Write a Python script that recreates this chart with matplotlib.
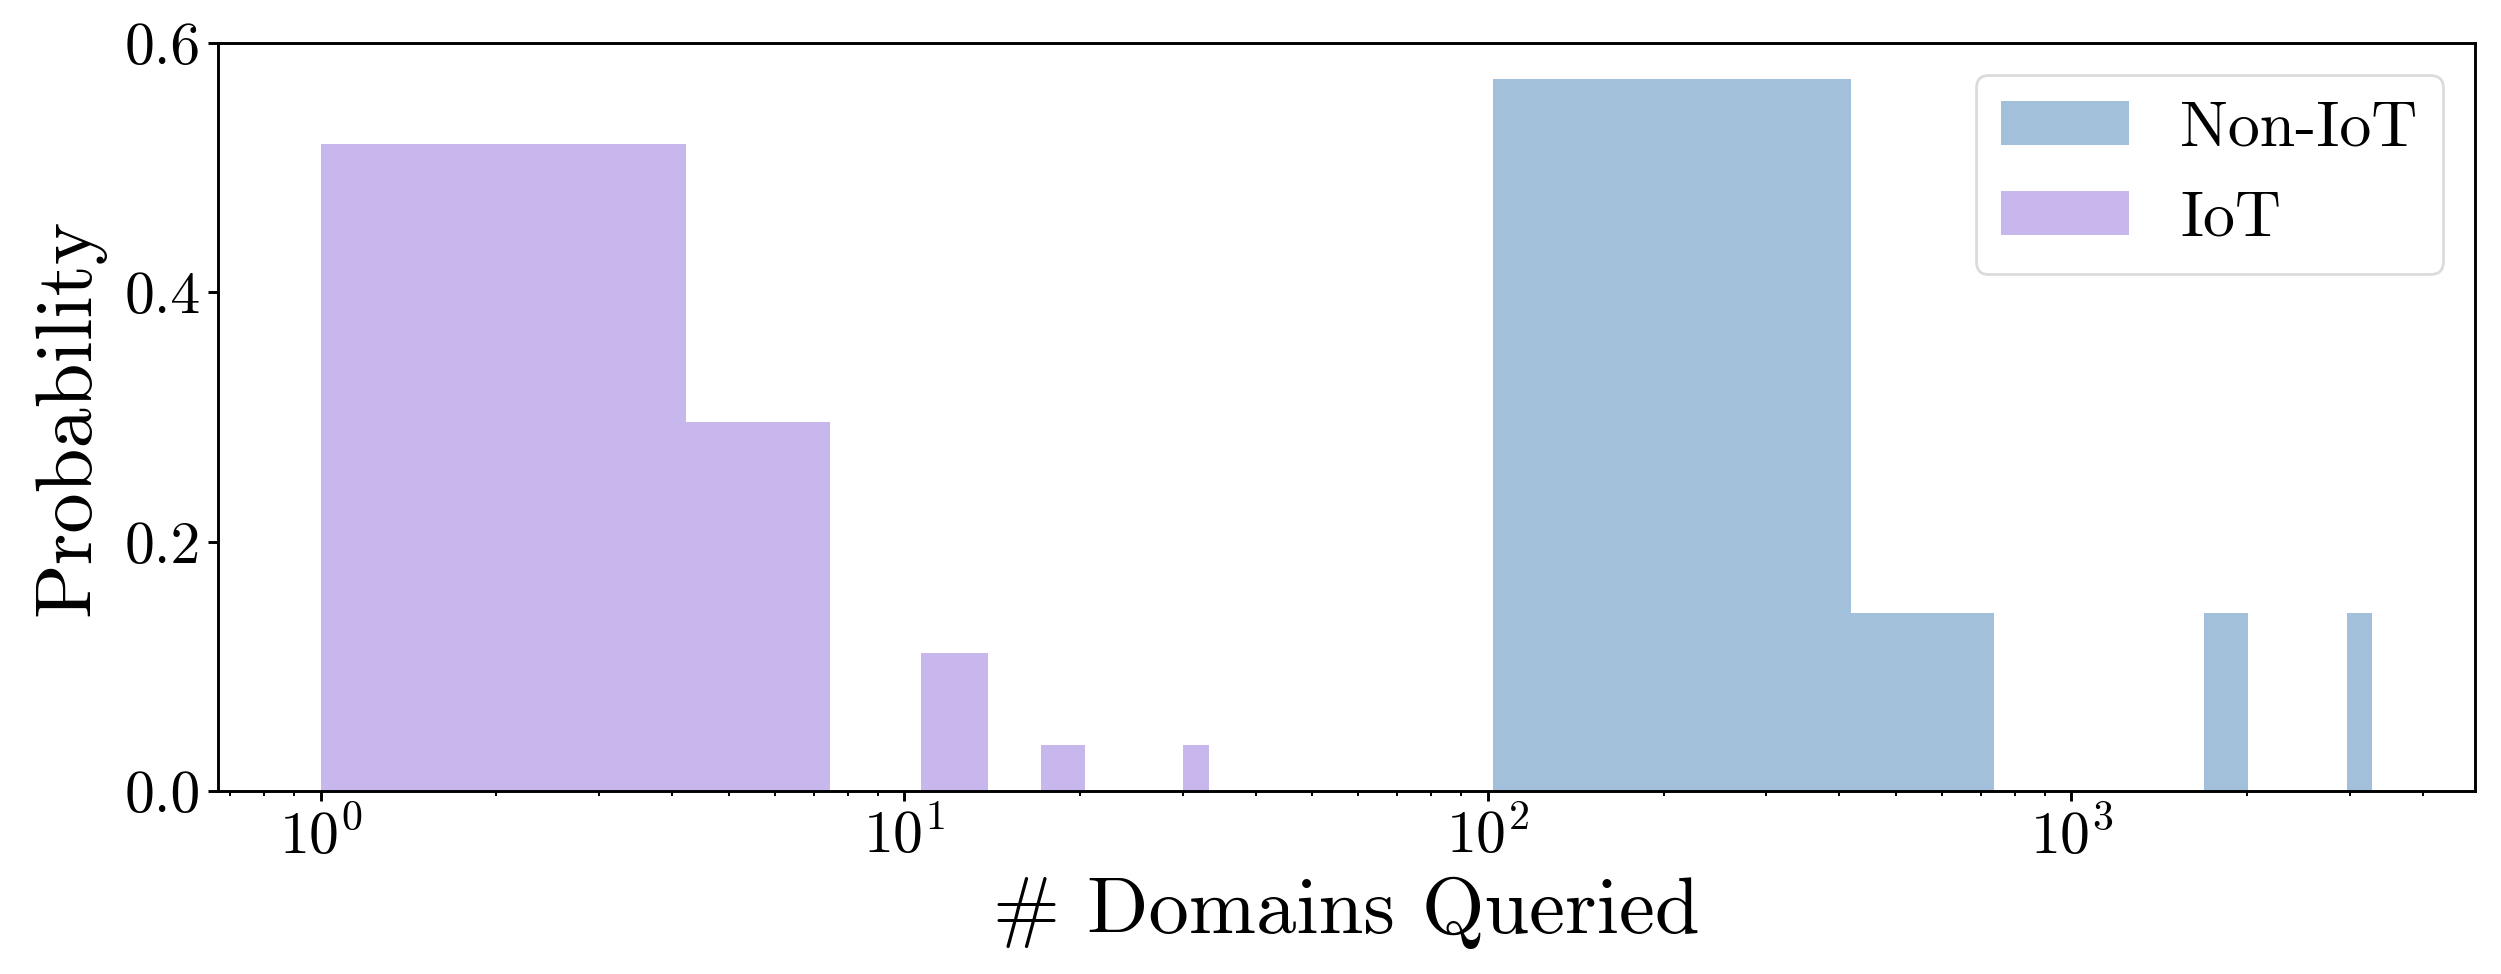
import matplotlib
matplotlib.use("Agg")
import matplotlib.pyplot as plt
from matplotlib.ticker import FormatStrFormatter

# ---- data (histogram bin edges and probabilities) ----
series_labels = ["Non-IoT", "IoT"]

noniot_edges = [102, 419.7, 737.4, 1055, 1373, 1690, 2008, 2326, 2644, 2961, 3279]
noniot_prob = [0.571, 0.143, 0.0, 0.0, 0.0, 0.143, 0.0, 0.0, 0.0, 0.143]

iot_edges = [1.0, 4.23, 7.46, 10.69, 13.92, 17.15, 20.38, 23.61, 26.84, 30.07, 33.3]
iot_prob = [0.519, 0.296, 0.0, 0.111, 0.0, 0.037, 0.0, 0.0, 0.0, 0.037]

y_ticks = [0.0, 0.2, 0.4, 0.6]
x_label = "# Domains Queried"
y_label = "Probability"

# ---- style ----
plt.rcParams["font.family"] = ["cmr10", "DejaVu Serif"]
plt.rcParams["mathtext.fontset"] = "cm"
plt.rcParams["axes.unicode_minus"] = False
plt.rcParams["axes.formatter.use_mathtext"] = True

fig = plt.figure(figsize=(25.01, 9.74), dpi=100)
ax = fig.add_axes([0.0872, 0.1879, 0.9896 - 0.0872, 0.9559 - 0.1879])

ax.hist(noniot_edges[:-1], bins=noniot_edges, weights=noniot_prob,
        color="steelblue", alpha=0.5, label=series_labels[0])
ax.hist(iot_edges[:-1], bins=iot_edges, weights=iot_prob,
        color="mediumpurple", alpha=0.5, label=series_labels[1])

ax.set_xscale("log")
ax.set_ylim(0, 0.6)
ax.set_yticks(y_ticks)
ax.yaxis.set_major_formatter(FormatStrFormatter("%.1f"))

ax.set_xlabel(x_label, fontsize=58, labelpad=8)
ax.set_ylabel(y_label, fontsize=58, labelpad=14)

ax.tick_params(axis="both", which="major", labelsize=43, length=7.5, width=2.1,
               direction="out", pad=5)
ax.tick_params(axis="x", which="minor", length=3.8, width=1.4, direction="out")
for sp in ax.spines.values():
    sp.set_linewidth(2.1)

leg = ax.legend(loc="upper right", fontsize=46, frameon=True, fancybox=True)
leg.get_frame().set_edgecolor("#d3d3d3")
leg.get_frame().set_linewidth(2.0)

fig.savefig("out.png", dpi=100)
